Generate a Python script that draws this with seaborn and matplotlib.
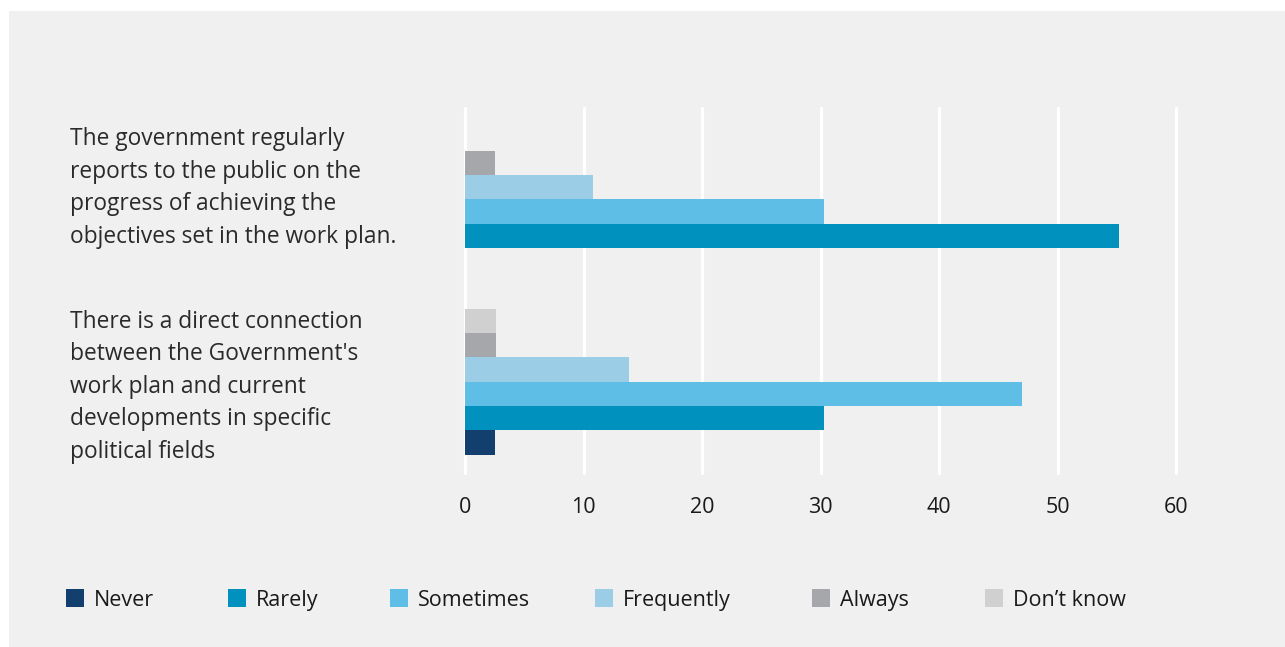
import matplotlib
matplotlib.use("Agg")
import matplotlib.pyplot as plt
from matplotlib.patches import Rectangle, Patch
from matplotlib.transforms import blended_transform_factory
import pandas as pd
import seaborn as sns

# Survey statements and response shares (%)
statements = [
    "The government regularly\nreports to the public on the\nprogress of achieving the\nobjectives set in the work plan.",
    "There is a direct connection\nbetween the Government's\nwork plan and current\ndevelopments in specific\npolitical fields",
]
responses = ["Never", "Rarely", "Sometimes", "Frequently", "Always", "Don\u2019t know"]
colors = ["#133f6e", "#0091be", "#5ebee6", "#9bcde6", "#a6a7ab", "#d0d0d0"]

never = [None, 2.5]
rarely = [55.2, 30.3]
sometimes = [30.3, 47.0]
frequently = [10.8, 13.8]
always = [2.5, 2.6]
dont_know = [None, 2.6]

x_ticks = [0, 10, 20, 30, 40, 50, 60]

series = [never, rarely, sometimes, frequently, always, dont_know]
rows = []
for resp, vals in zip(responses, series):
    for stmt, v in zip(statements, vals):
        if v is not None:
            rows.append({"statement": stmt, "response": resp, "value": v})
df = pd.DataFrame(rows)

BG = "#f0f0f0"
TEXT = "#1a1a1a"

sns.set_theme(style="white")
plt.rcParams["font.family"] = ["Open Sans", "DejaVu Sans"]

W, H = 1285, 647
fig = plt.figure(figsize=(W / 100, H / 100), dpi=100, facecolor="white")
fig.patches.append(Rectangle((9 / W, 0), 1 - 9 / W, (H - 11) / H,
                             transform=fig.transFigure, facecolor=BG,
                             edgecolor="none", zorder=-5))

ax = fig.add_axes([465 / W, 174 / H, (1200 - 465) / W, (473 - 108) / H])
ax.set_facecolor(BG)

# Within each group the bars run from "Don't know" (top) down to "Never"
palette = dict(zip(responses, colors))
sns.barplot(data=df, y="statement", x="value", hue="response",
            order=statements, hue_order=responses[::-1], palette=palette,
            orient="h", width=0.8, saturation=1, legend=False,
            linewidth=0, ax=ax, zorder=3)

ax.set_xlim(0, 62)
ax.set_ylim(1.5, -0.5)
ax.set_xticks(x_ticks)
ax.set_xticklabels([str(t) for t in x_ticks])
ax.grid(axis="x", color="white", linewidth=2.3, zorder=1)
ax.grid(axis="y", visible=False)
ax.set_axisbelow(True)
for s in ax.spines.values():
    s.set_visible(False)
ax.tick_params(axis="x", length=0, pad=17, labelsize=15.5, labelcolor=TEXT)
ax.tick_params(axis="y", length=0)
ax.set_yticklabels([])
ax.set_xlabel("")
ax.set_ylabel("")
for gl in ax.get_xgridlines():
    gl.set_clip_on(False)

# Statement labels, left-aligned and top-aligned with each bar group
label_tf = blended_transform_factory(fig.transFigure, ax.transData)
for i, stmt in enumerate(statements):
    ax.text(70 / W, i - 0.395, stmt, transform=label_tf,
            ha="left", va="top", fontsize=16.4, color="#2a2a2a", linespacing=1.47)

# Legend: one entry per response, laid out in a single row
legend_x = [66, 228, 390, 595, 812, 985]
for r, c, xp in zip(responses, colors, legend_x):
    h = Patch(facecolor=c, edgecolor="none", label=r)
    fig.legend(handles=[h], loc="center left", bbox_to_anchor=(xp / W, 1 - 600 / H),
               frameon=False, fontsize=15.5, handlelength=0.85, handleheight=0.85,
               handletextpad=0.45, labelcolor=TEXT, borderaxespad=0, borderpad=0)

fig.savefig("out.png", dpi=100, facecolor="white")
